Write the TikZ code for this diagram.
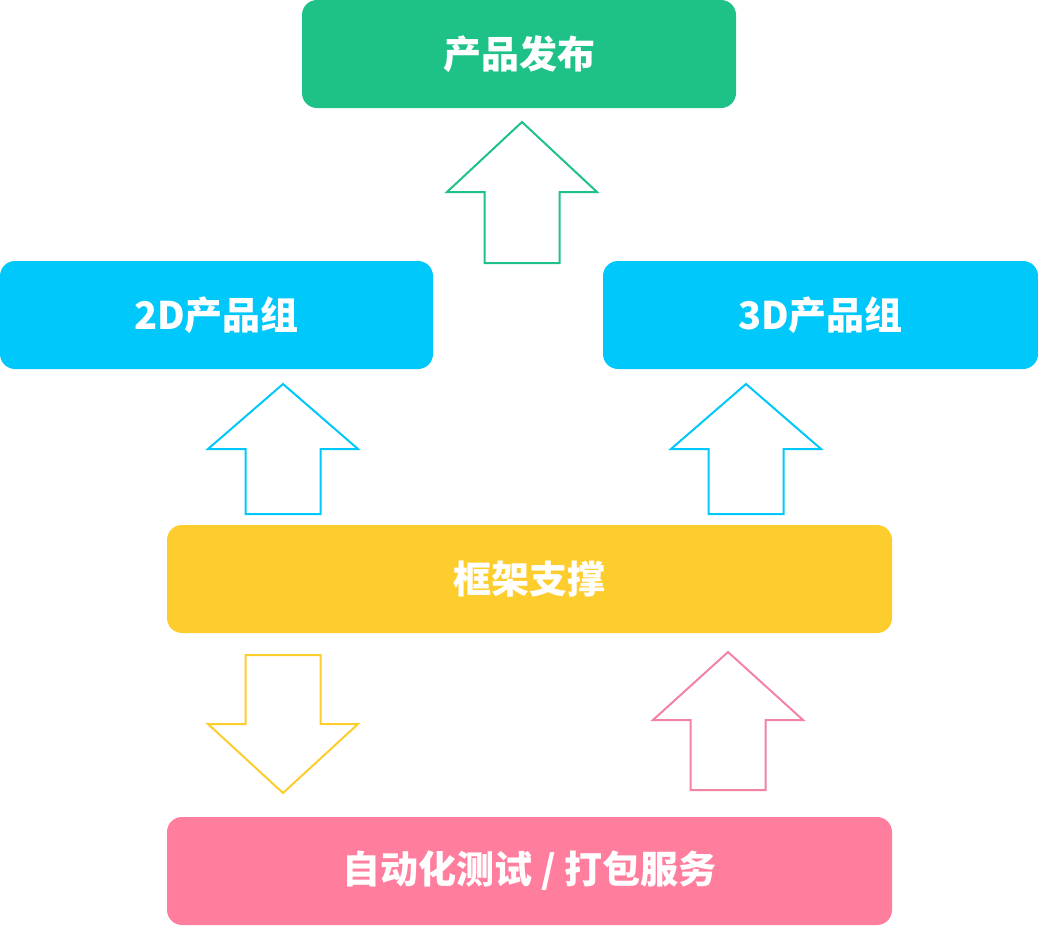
\documentclass[tikz,border=0pt]{standalone}
\usepackage{fontspec}
\newfontfamily\cjk{Noto Sans CJK SC}
\definecolor{cgreen}{HTML}{1EC186}
\definecolor{ccyan}{HTML}{00C8FA}
\definecolor{cyellow}{HTML}{FDCC2D}
\definecolor{cpink}{HTML}{FF7E9E}
\definecolor{apink}{HTML}{F283A3}
\tikzset{
  box/.style={rounded corners=15pt, minimum height=108pt, inner sep=0pt,
    text=white, font=\cjk\bfseries\fontsize{38}{44}\selectfont},
  pics/uparr/.style n args={2}{code={
    \draw[line width=2pt, line join=miter] (0,0) -- (75,#1) -- (37.5,#1) -- (37.5,#2)
      -- (-37.5,#2) -- (-37.5,#1) -- (-75,#1) -- cycle;}}
}
\begin{document}
\begin{tikzpicture}[x=1pt,y=-1pt]
\useasboundingbox (0,0) rectangle (1038,926);
\node[box, fill=cgreen, minimum width=434pt] (release) at (519,54) {产品发布};
\node[box, fill=ccyan, minimum width=433pt] (g2d) at (216.5,315) {2D产品组};
\node[box, fill=ccyan, minimum width=435pt] (g3d) at (820.5,315) {3D产品组};
\node[box, fill=cyellow, minimum width=725pt] (frame) at (529.5,579) {框架支撑};
\node[box, fill=cpink, minimum width=725pt] (auto) at (529.5,871) {自动化测试 / 打包服务};
\pic[color=cgreen] (a1) at (522,122) {uparr={70}{141}};
\pic[color=ccyan] (a2) at (283,384) {uparr={65}{130}};
\pic[color=ccyan] (a3) at (746,384) {uparr={65}{130}};
\pic[color=cyellow, yscale=-1] (a4) at (283,793) {uparr={69}{138}};
\pic[color=apink] (a5) at (728,652) {uparr={68}{138}};
\end{tikzpicture}
\end{document}
